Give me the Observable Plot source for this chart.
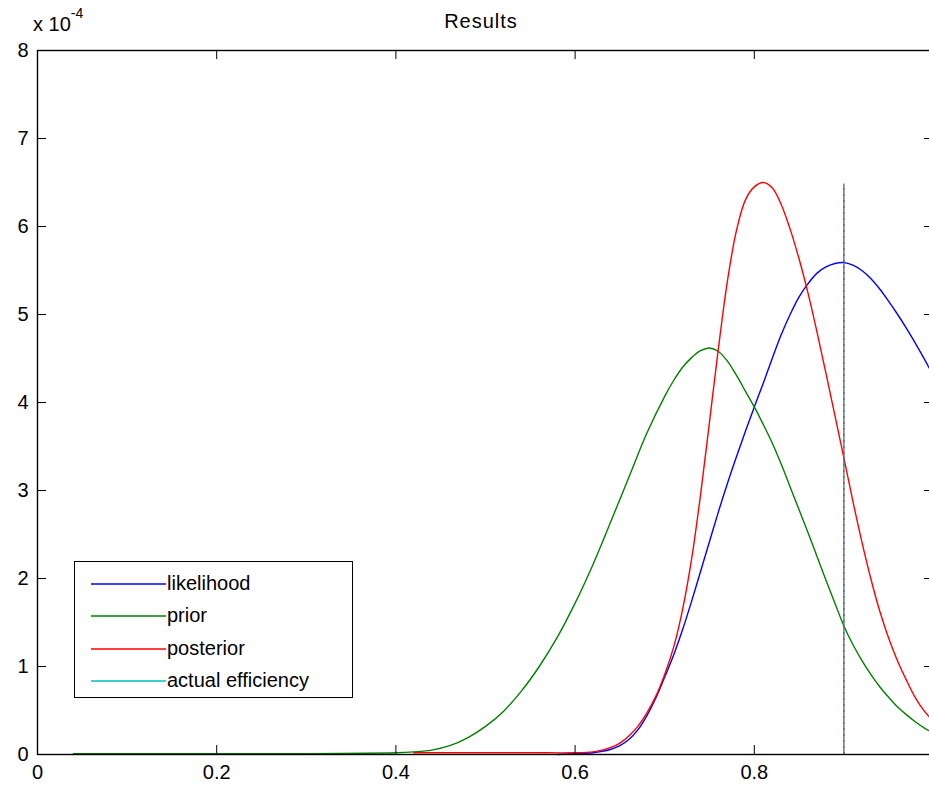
<!DOCTYPE html>
<html><head><meta charset="utf-8">
<script src="https://cdn.jsdelivr.net/npm/d3@7"></script>
<script src="https://cdn.jsdelivr.net/npm/@observablehq/plot@0.6"></script>
<style>
body{margin:0;background:#fff;}
#wrap{position:relative;width:929px;height:787px;overflow:hidden;background:#fff;font-family:"Liberation Sans",Arial,sans-serif;}
#title{position:absolute;left:0;width:962px;top:10px;text-align:center;font-size:20px;color:#000;letter-spacing:1px;}
#expo{position:absolute;left:33px;top:10px;font-size:20px;color:#000;white-space:nowrap;}
#expo sup{font-size:14px;position:relative;top:-5px;}
#legend{position:absolute;left:74px;top:561px;width:277px;height:135px;border:1px solid #000;background:#fff;}
.row{position:absolute;left:0;height:30px;width:100%;}
.row svg{position:absolute;left:16px;top:0;}
.row span{position:absolute;left:92px;top:3px;font-size:20px;color:#000;white-space:nowrap;}
</style></head><body>
<div id="wrap"><div id="chart"></div>
<div id="title"></div><div id="expo"></div><div id="legend"></div></div>
<script>
// ---- data (values in units of 1e-4) ----
const chartTitle = "Results";
const yExponent = "-4";
const xTicks = [0, 0.2, 0.4, 0.6, 0.8, 1];
const xTickLabels = ["0", "0.2", "0.4", "0.6", "0.8", "1"];
const yTicks = [0, 1, 2, 3, 4, 5, 6, 7, 8];
const yTickLabels = ["0", "1", "2", "3", "4", "5", "6", "7", "8"];
const seriesNames = ["likelihood", "prior", "posterior", "actual efficiency"];
const seriesColors = ["#0000ff", "#008000", "#ff0000", "#00bfbf"];

const likelihoodX = [0.58,0.60,0.62,0.63,0.64,0.65,0.66,0.67,0.68,0.69,0.70,0.71,0.72,0.73,0.74,0.75,0.76,0.77,0.78,0.79,0.80,0.81,0.82,0.83,0.84,0.85,0.86,0.87,0.88,0.89,0.90,0.91,0.92,0.93,0.94,0.95,0.96,0.97,0.98,0.99,1.0];
const likelihoodY = [0.0,0.01,0.02,0.035,0.06,0.10,0.17,0.28,0.44,0.64,0.88,1.13,1.42,1.74,2.08,2.42,2.76,3.08,3.38,3.67,3.95,4.22,4.50,4.77,5.00,5.20,5.35,5.47,5.54,5.58,5.59,5.56,5.50,5.41,5.29,5.15,5.00,4.84,4.67,4.49,4.30];

const priorX = [0.04,0.1,0.2,0.3,0.40,0.42,0.44,0.46,0.48,0.50,0.52,0.54,0.56,0.58,0.60,0.62,0.64,0.66,0.68,0.70,0.71,0.72,0.73,0.74,0.75,0.76,0.77,0.78,0.79,0.80,0.81,0.82,0.83,0.84,0.85,0.86,0.87,0.88,0.89,0.90,0.91,0.92,0.93,0.94,0.95,0.96,0.97,0.98,0.99,1.0];
const priorY = [0.01,0.01,0.01,0.01,0.02,0.03,0.05,0.10,0.19,0.32,0.49,0.72,1.00,1.33,1.72,2.16,2.65,3.15,3.65,4.07,4.25,4.40,4.51,4.59,4.62,4.58,4.47,4.31,4.13,3.95,3.75,3.54,3.30,3.04,2.78,2.52,2.25,1.98,1.72,1.46,1.25,1.07,0.91,0.77,0.65,0.54,0.45,0.37,0.30,0.24];

const posteriorX = [0.42,0.45,0.50,0.55,0.60,0.62,0.63,0.64,0.65,0.66,0.67,0.68,0.69,0.70,0.71,0.72,0.73,0.74,0.75,0.76,0.77,0.78,0.79,0.80,0.81,0.82,0.83,0.84,0.85,0.86,0.87,0.88,0.89,0.90,0.91,0.92,0.93,0.94,0.95,0.96,0.97,0.98,0.99,1.0];
const posteriorY = [0.02,0.02,0.02,0.02,0.02,0.03,0.05,0.08,0.13,0.21,0.32,0.47,0.66,0.91,1.22,1.65,2.22,2.95,3.78,4.62,5.38,5.95,6.30,6.45,6.50,6.44,6.25,5.97,5.63,5.24,4.80,4.33,3.85,3.37,2.88,2.42,2.00,1.63,1.32,1.06,0.84,0.64,0.49,0.38];

const actualEfficiency = 0.9;
const actualLineTop = 6.48;

// ---- build table ----
const rows = [];
likelihoodX.forEach((x, i) => rows.push({series: seriesNames[0], x, y: likelihoodY[i]}));
priorX.forEach((x, i) => rows.push({series: seriesNames[1], x, y: priorY[i]}));
posteriorX.forEach((x, i) => rows.push({series: seriesNames[2], x, y: posteriorY[i]}));

const W = 929, H = 787, mL = 37, mR = -4, mT = 50, mB = 33;
const frameW = W - mL - mR, frameH = H - mT - mB, tickLen = 9;

const plot = Plot.plot({
  width: W, height: H,
  marginLeft: mL, marginRight: mR, marginTop: mT, marginBottom: mB,
  x: {domain: [0, 1]},
  y: {domain: [0, 8]},
  color: {domain: seriesNames, range: seriesColors},
  style: {fontFamily: '"Liberation Sans", Arial, sans-serif', fontSize: "20px", color: "#000", background: "#fff", overflow: "hidden"},
  marks: [
    Plot.line(rows, {x: "x", y: "y", z: "series", stroke: "series", strokeWidth: 1.4, curve: "catmull-rom"}),
    Plot.ruleX([actualEfficiency], {y1: 0, y2: actualLineTop, stroke: "#3b7a62", strokeWidth: 1.3}),
    Plot.ruleX([actualEfficiency], {y1: 0, y2: actualLineTop, stroke: "#8e4a9a", strokeWidth: 1.3, strokeDasharray: "2,4"}),
    Plot.frame({stroke: "#000", strokeWidth: 1.4}),
    Plot.tickX(xTicks, {x: d => d, insetTop: frameH - tickLen, stroke: "#000"}),
    Plot.tickX(xTicks, {x: d => d, insetBottom: frameH - tickLen, stroke: "#000"}),
    Plot.tickY(yTicks, {y: d => d, insetRight: frameW - tickLen, stroke: "#000"}),
    Plot.tickY(yTicks, {y: d => d, insetLeft: frameW - tickLen, stroke: "#000"}),
    Plot.axisX(xTicks, {anchor: "bottom", tickSize: 0, tickPadding: 10, label: null, tickFormat: d => xTickLabels[xTicks.indexOf(d)]}),
    Plot.axisY(yTicks, {anchor: "left", tickSize: 0, tickPadding: 9, label: null, tickFormat: d => yTickLabels[yTicks.indexOf(d)]})
  ]
});
document.getElementById("chart").appendChild(plot);

document.getElementById("title").textContent = chartTitle;
document.getElementById("expo").innerHTML = "x 10<sup>" + yExponent + "</sup>";

const legend = document.getElementById("legend");
const rowTops = [7, 39, 72, 104];
seriesNames.forEach((name, i) => {
  const r = document.createElement("div");
  r.className = "row";
  r.style.top = rowTops[i] + "px";
  r.innerHTML = `<svg width="76" height="30"><line x1="0" x2="75" y1="15" y2="15" stroke="${seriesColors[i]}" stroke-width="1.5"/></svg><span></span>`;
  r.querySelector("span").textContent = name;
  legend.appendChild(r);
});
</script></body></html>
